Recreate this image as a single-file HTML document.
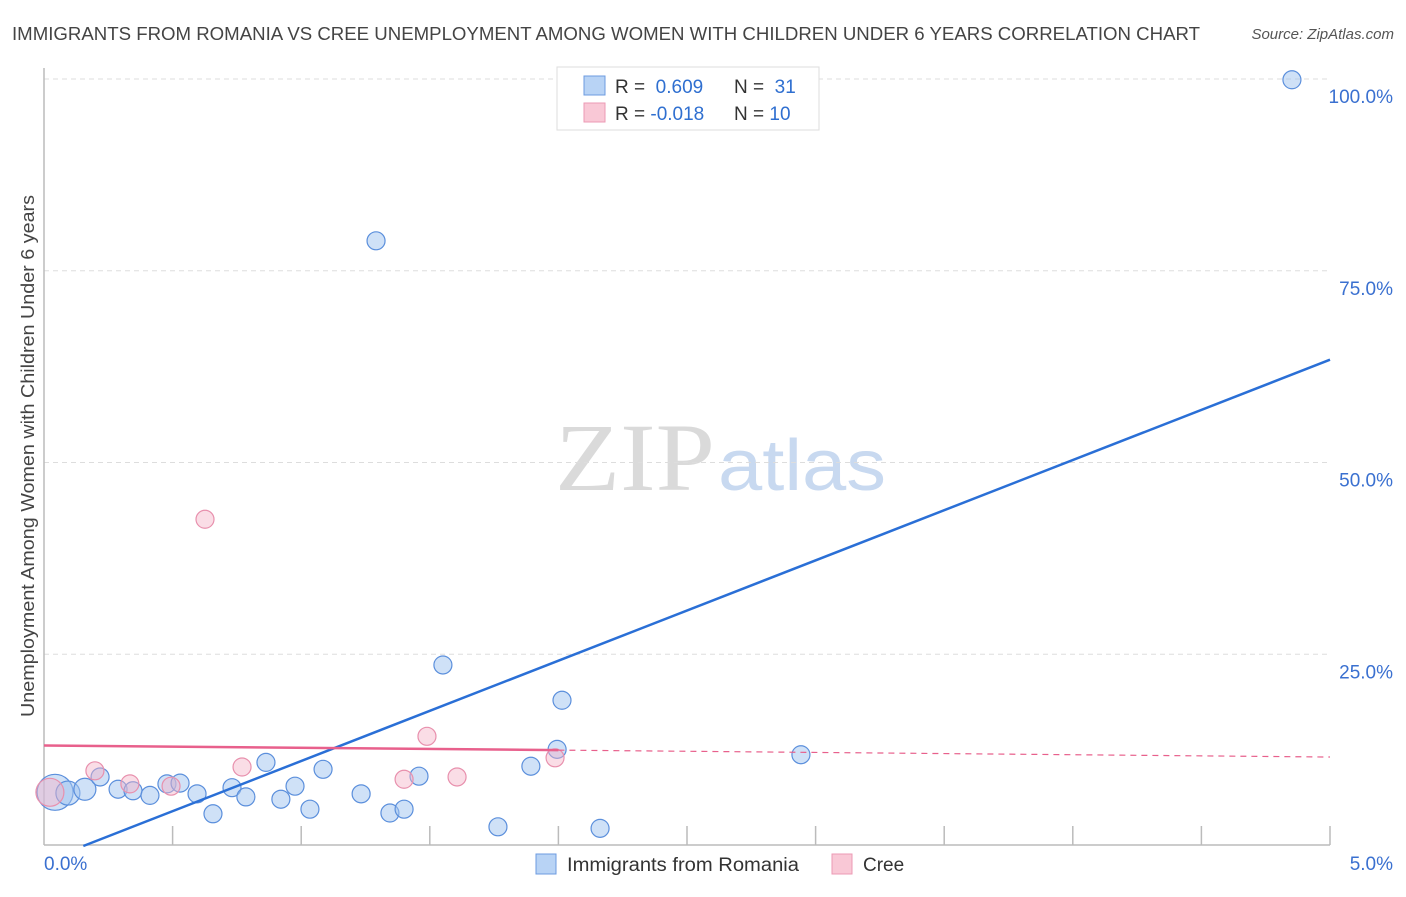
<!DOCTYPE html>
<html><head><meta charset="utf-8"><style>
body{margin:0;background:#fff;font-family:"Liberation Sans",sans-serif}
</style></head><body>
<svg width="1406" height="892" xmlns="http://www.w3.org/2000/svg" id="chart" font-family="Liberation Sans, sans-serif">
<text x="12" y="40" font-size="18" fill="#444" textLength="1188" lengthAdjust="spacingAndGlyphs">IMMIGRANTS FROM ROMANIA VS CREE UNEMPLOYMENT AMONG WOMEN WITH CHILDREN UNDER 6 YEARS CORRELATION CHART</text>
<text x="1394" y="39" font-size="15" fill="#555" font-style="italic" text-anchor="end">Source: ZipAtlas.com</text>
<g>
<text x="555" y="490" font-size="96" fill="#dadada" style="font-family:'Liberation Serif',serif" textLength="160" lengthAdjust="spacingAndGlyphs">ZIP</text>
<text x="718" y="490" font-size="72" fill="#c8d9f0" textLength="168" lengthAdjust="spacingAndGlyphs">atlas</text>
</g>
<g id="grid"></g><g id="axes"></g><g id="marks"></g>
<text transform="translate(34,456) rotate(-90)" font-size="18" fill="#444" text-anchor="middle" textLength="522" lengthAdjust="spacingAndGlyphs">Unemployment Among Women with Children Under 6 years</text>
<g>
<rect x="557" y="67" width="262" height="63" fill="#fff" stroke="#ddd"/>
<rect x="584" y="76" width="21" height="19" fill="#b8d3f5" stroke="#6c9be0"/>
<rect x="584" y="103" width="21" height="19" fill="#f9c8d6" stroke="#ec9ab4"/>
<text x="615" y="93" font-size="19" fill="#333">R = <tspan fill="#2f6fd0">&#160;0.609</tspan></text>
<text x="734" y="93" font-size="19" fill="#333">N = <tspan fill="#2f6fd0">&#160;31</tspan></text>
<text x="615" y="120" font-size="19" fill="#333">R = <tspan fill="#2f6fd0">-0.018</tspan></text>
<text x="734" y="120" font-size="19" fill="#333">N = <tspan fill="#2f6fd0">10</tspan></text>
</g>
<g>
<rect x="536" y="854" width="20" height="20" fill="#b8d3f5" stroke="#6c9be0"/>
<text x="567" y="871" font-size="19" fill="#333" textLength="232" lengthAdjust="spacingAndGlyphs">Immigrants from Romania</text>
<rect x="832" y="854" width="20" height="20" fill="#f9c8d6" stroke="#ec9ab4"/>
<text x="863" y="871" font-size="19" fill="#333">Cree</text>
</g>
</svg>
<script>
const blueX=[0.043,0.093,0.159,0.218,0.288,0.346,0.412,0.478,0.529,0.595,0.657,0.731,0.785,0.863,0.921,0.976,1.034,1.085,1.233,1.291,1.345,1.400,1.458,1.551,1.765,1.893,1.995,2.014,2.162,2.943,4.852];
const blueY=[7.0,6.9,7.4,9.0,7.4,7.2,6.6,8.1,8.2,6.8,4.2,7.6,6.4,10.9,6.1,7.8,4.8,10.0,6.8,78.9,4.3,4.8,9.1,23.6,2.5,10.4,12.6,19.0,2.3,11.9,99.9];
const blueR=[18,12,11,9,9,9,9,9,9,9,9,9,9,9,9,9,9,9,9,9,9,9,9,9,9,9,9,9,9,9,9];
const pinkX=[0.023,0.198,0.334,0.494,0.626,0.770,1.400,1.489,1.606,1.987];
const pinkY=[7.0,9.8,8.1,7.8,42.6,10.3,8.7,14.3,9.0,11.5];
const pinkR=[14,9,9,9,9,9,9,9,9,9];
const blueTrend=[-2.0,13.08];
const pinkTrend=[13.1,-0.3];
const yTicks=[25,50,75,100];
const xTickLabels=["0.0%","5.0%"];
const NS="http://www.w3.org/2000/svg";
const xs=v=>44+v/5*1286, ys=v=>846-v*7.67;
function mk(p,t,a){const e=document.createElementNS(NS,t);for(const k in a)e.setAttribute(k,a[k]);document.getElementById(p).appendChild(e);return e;}
yTicks.forEach(v=>{
 const g=mk('grid','line',{x1:44,x2:1330,y1:ys(v),y2:ys(v),stroke:'#ddd','stroke-dasharray':'5,4'});
 
 
 const t=mk('grid','text',{x:1393,y:ys(v)+24,'font-size':19,fill:'#3a70d0','text-anchor':'end'});
 t.textContent=v.toFixed(1)+'%';
 
 
});
const xa=mk('axes','line',{x1:44,x2:1330,y1:845,y2:845,stroke:'#bbb','stroke-width':1.5});


const ya=mk('axes','line',{x1:44,x2:44,y1:68,y2:845,stroke:'#bbb','stroke-width':1.5});


for(let i=1;i<=10;i++){const t=mk('axes','line',{x1:xs(i*0.5),x2:xs(i*0.5),y1:826,y2:845,stroke:'#bbb','stroke-width':1.5});
 
 }
[[0,'start',44],[1,'end',1393]].forEach(([i,a,x])=>{const t=mk('axes','text',{x:x,y:870,'font-size':19,fill:'#3a70d0','text-anchor':a});t.textContent=xTickLabels[i];
 
 });
blueX.forEach((x,i)=>{const c=mk('marks','circle',{cx:xs(x),cy:ys(blueY[i]),r:blueR[i],fill:'rgba(160,195,240,0.5)',stroke:'#5b8fdc','stroke-width':1.2});
 
 });
pinkX.forEach((x,i)=>{const c=mk('marks','circle',{cx:xs(x),cy:ys(pinkY[i]),r:pinkR[i],fill:'rgba(245,180,200,0.45)',stroke:'#e890ad','stroke-width':1.2});
 
 });
const x0=-blueTrend[0]/blueTrend[1];
const bl=mk('marks','line',{x1:xs(x0),y1:ys(0),x2:xs(5),y2:ys(blueTrend[0]+blueTrend[1]*5),stroke:'#2a6fd6','stroke-width':2.5});


const pm=2.0;
const pl=mk('marks','line',{x1:xs(0),y1:ys(pinkTrend[0]),x2:xs(pm),y2:ys(pinkTrend[0]+pinkTrend[1]*pm),stroke:'#e8608c','stroke-width':2.5});


const pd=mk('marks','line',{x1:xs(pm),y1:ys(pinkTrend[0]+pinkTrend[1]*pm),x2:xs(5),y2:ys(pinkTrend[0]+pinkTrend[1]*5),stroke:'#e8608c','stroke-width':1.2,'stroke-dasharray':'6,5'});


</script>
</body></html>
